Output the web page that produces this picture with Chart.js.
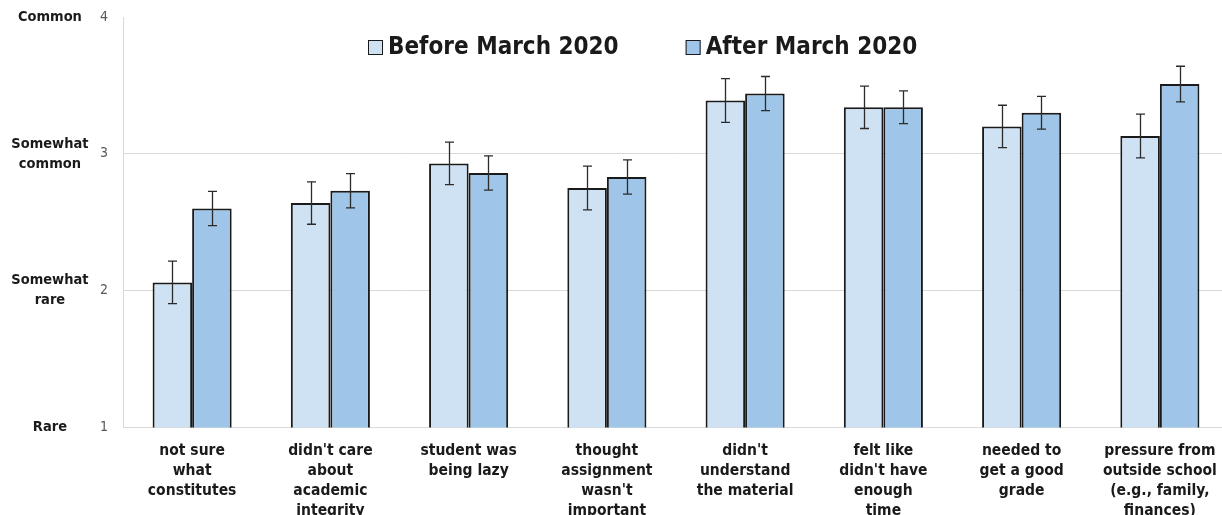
<!DOCTYPE html>
<html>
<head>
<meta charset="utf-8">
<script src="https://cdn.jsdelivr.net/npm/chart.js@4"></script>
<style>
  html, body { margin: 0; padding: 0; background: #fff; overflow: hidden; }
  .wrap { position: relative; width: 1229px; height: 534px; }
</style>
</head>
<body>
<div class="wrap"><canvas class="reasonsChart"></canvas></div>
<script>
const categories = [
  ["not sure", "what", "constitutes"],
  ["didn't care", "about", "academic", "integrity"],
  ["student was", "being lazy"],
  ["thought", "assignment", "wasn't", "important"],
  ["didn't", "understand", "the material"],
  ["felt like", "didn't have", "enough", "time"],
  ["needed to", "get a good", "grade"],
  ["pressure from", "outside school", "(e.g., family,", "finances)"],
];
const beforeValues = [2.06, 2.64, 2.93, 2.75, 3.39, 3.34, 3.2, 3.13];
const afterValues = [2.6, 2.73, 2.86, 2.83, 3.44, 3.34, 3.3, 3.51];
const beforeErrors = [0.155, 0.155, 0.155, 0.16, 0.16, 0.155, 0.155, 0.16];
const afterErrors = [0.125, 0.125, 0.125, 0.125, 0.125, 0.12, 0.12, 0.13];
const levelLabels = ["Rare", ["Somewhat", "rare"], ["Somewhat", "common"], "Common"];

const FONT = "'DejaVu Sans Condensed', 'DejaVu Sans', sans-serif";
const ink = "#1a1a1a";

// whiskers drawn through the y scale, one per bar
const errorBars = {
  id: "errorBars",
  afterDatasetsDraw(chart) {
    const { ctx } = chart;
    const y = chart.scales.y;
    ctx.save();
    ctx.strokeStyle = "#2b2b2b";
    ctx.lineWidth = 1.3;
    chart.data.datasets.forEach((ds, i) => {
      chart.getDatasetMeta(i).data.forEach((bar, j) => {
        const hi = y.getPixelForValue(ds.data[j] + ds.errors[j]);
        const lo = y.getPixelForValue(ds.data[j] - ds.errors[j]);
        const x = Math.round(bar.x) + 0.5;
        ctx.beginPath();
        ctx.moveTo(x, hi);
        ctx.lineTo(x, lo);
        ctx.moveTo(x - 4.5, hi);
        ctx.lineTo(x + 4.5, hi);
        ctx.moveTo(x - 4.5, lo);
        ctx.lineTo(x + 4.5, lo);
        ctx.stroke();
      });
    });
    ctx.restore();
  },
};

// legend sits inside the plot, like the original
const insideLegend = {
  id: "insideLegend",
  afterDraw(chart) {
    const { ctx } = chart;
    ctx.save();
    ctx.font = "bold 24px " + FONT;
    ctx.textBaseline = "middle";
    let x = 368;
    const yMid = 48;
    chart.data.datasets.forEach((ds) => {
      ctx.fillStyle = ds.backgroundColor;
      ctx.fillRect(x, yMid - 8, 15, 15);
      ctx.strokeStyle = ink;
      ctx.lineWidth = 1;
      ctx.strokeRect(x + 0.5, yMid - 7.5, 14, 14);
      ctx.fillStyle = ink;
      ctx.fillText(ds.label, x + 20, yMid);
      x += 20 + ctx.measureText(ds.label).width + 67;
    });
    ctx.restore();
  },
};

// keep the plot edges pinned to the layout padding
const noEdgePad = (s) => {
  s.paddingTop = 0;
  s.paddingBottom = 0;
  s.paddingLeft = 0;
  s.paddingRight = 0;
};

const ctx = document.querySelector(".reasonsChart").getContext("2d");

const chart = new Chart(ctx, {
  type: "bar",
  data: {
    labels: categories,
    datasets: [
      {
        label: "Before March 2020",
        data: beforeValues,
        errors: beforeErrors,
        backgroundColor: "#cfe2f3",
        borderColor: ink,
        borderWidth: 2,
      },
      {
        label: "After March 2020",
        data: afterValues,
        errors: afterErrors,
        backgroundColor: "#9fc5e8",
        borderColor: ink,
        borderWidth: 2,
      },
    ],
  },
  plugins: [errorBars, insideLegend],
  options: {
    responsive: true,
    maintainAspectRatio: false,
    animation: false,
    layout: { padding: { top: 17, right: 0, left: 0, bottom: 0 } },
    datasets: {
      bar: { categoryPercentage: 0.572, barPercentage: 1.0 },
    },
    plugins: {
      legend: { display: false },
      tooltip: { enabled: false },
    },
    scales: {
      x: {
        afterFit: noEdgePad,
        grid: { display: false, drawTicks: false },
        border: { display: true, color: "#d9d9d9", width: 1 },
        ticks: {
          color: ink,
          padding: 13,
          maxRotation: 0,
          autoSkip: false,
          font: { family: FONT, size: 15.5, weight: "bold", lineHeight: 1.3 },
        },
      },
      y: {
        min: 1,
        max: 4,
        weight: 0,
        afterFit: (s) => { s.width = 23; noEdgePad(s); },
        grid: {
          drawTicks: false,
          color: (c) => (c.tick && c.tick.value === 4 ? "rgba(0,0,0,0)" : "#d9d9d9"),
        },
        border: { display: true, color: "#d9d9d9", width: 1 },
        ticks: {
          stepSize: 1,
          padding: 15,
          color: "#595959",
          font: { family: FONT, size: 14 },
        },
      },
      levels: {
        type: "linear",
        position: "left",
        min: 1,
        max: 4,
        weight: 1,
        afterFit: (s) => { s.width = 100; noEdgePad(s); },
        grid: { display: false, drawTicks: false },
        border: { display: false },
        ticks: {
          stepSize: 1,
          crossAlign: "center",
          padding: 11.5,
          color: ink,
          font: { family: FONT, size: 14.5, weight: "bold", lineHeight: 1.38 },
          callback: (v) => levelLabels[v - 1],
        },
      },
    },
  },
});
</script>
</body>
</html>
